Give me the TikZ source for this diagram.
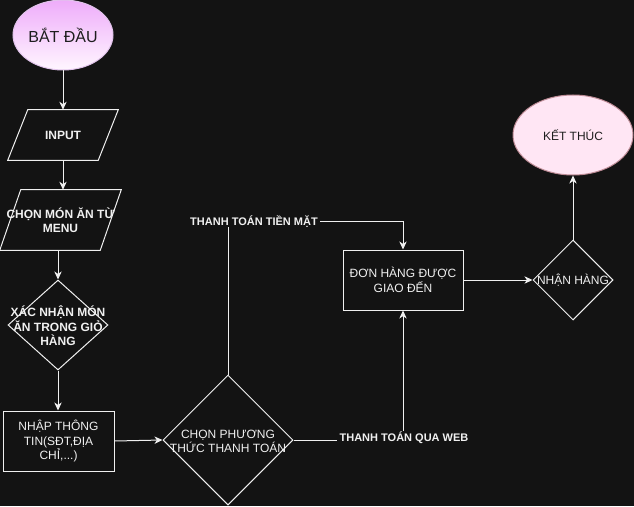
\documentclass[tikz,border=0pt]{standalone}
\usepackage{fontspec}
\setmainfont{Liberation Sans}
\usetikzlibrary{shapes.geometric,arrows.meta}
\definecolor{bg}{HTML}{131313}
\definecolor{fg}{HTML}{F0F0F0}
\definecolor{dark}{HTML}{1E1E1E}
\definecolor{vtop}{RGB}{238,172,250}
\definecolor{vbot}{RGB}{255,246,255}
\definecolor{vline}{RGB}{225,195,235}
\definecolor{pinkfill}{RGB}{255,230,244}
\definecolor{pinkline}{RGB}{190,140,150}
\begin{document}
\begin{tikzpicture}[x=0.75pt,y=-0.75pt,
  txt/.style={text=fg, font=\fontsize{9}{10.8}\selectfont, align=center, inner sep=0pt},
  btxt/.style={text=fg, font=\fontsize{9}{10.8}\selectfont\bfseries, align=center, inner sep=0pt},
  shp/.style={draw=fg, line width=0.75pt},
  conn/.style={draw=fg, line width=0.75pt},
  arr/.style={conn, -{Stealth[length=6pt,width=5.5pt,inset=1.8pt]}},
  edgelbl/.style={text=fg, font=\fontsize{8.25}{10}\selectfont\bfseries, inner sep=1.5pt, text height=6pt, text depth=0pt},
  term/.style={ellipse, inner sep=0pt, text=dark}
]
\fill[bg] (0,0) rectangle (634,506);
\useasboundingbox (0,0) rectangle (634,506);

% start
\node[term, draw=vline, line width=0.75pt, top color=vtop, bottom color=vbot,
      minimum width=75pt, minimum height=52.5pt, font=\fontsize{12}{14}\selectfont] (start) at (63,35) {BẮT ĐẦU};

% input parallelogram
\node[btxt, minimum width=82.5pt, minimum height=37.5pt] (input) at (63,135) {INPUT};
\draw[shp] ([xshift=15pt]input.north west) -- (input.north east) -- ([xshift=-15pt]input.south east) -- (input.south west) -- cycle;

% menu parallelogram
\node[btxt, minimum width=90.75pt, minimum height=45pt] (menu) at (60.5,220) {CHỌN MÓN ĂN TỪ\\MENU};
\draw[shp] ([xshift=15.75pt]menu.north west) -- (menu.north east) -- ([xshift=-15.75pt]menu.south east) -- (menu.south west) -- cycle;

% confirm diamond
\node[shp, diamond, minimum width=75pt, minimum height=67.5pt, inner sep=0pt] (xac) at (58,325) {};
\node[btxt] (xact) at (58,326) {XÁC NHẬN MÓN\\ĂN TRONG GIỎ\\HÀNG};

% info rect
\node[shp, txt, minimum width=83.25pt, minimum height=45pt] (nhap) at (58.5,441) {NHẬP THÔNG\\TIN(SĐT,ĐỊA\\CHỈ,...)};

% payment diamond
\node[shp, diamond, minimum width=97.5pt, minimum height=97.5pt, inner sep=0pt] (cpt) at (228,440) {};
\node[txt] (cptt) at (228,441.5) {CHỌN PHƯƠNG\\THỨC THANH TOÁN};

% delivered rect
\node[shp, txt, minimum width=90pt, minimum height=45pt] (don) at (403,280) {ĐƠN HÀNG ĐƯỢC\\GIAO ĐẾN};

% receive diamond
\node[shp, diamond, minimum width=60pt, minimum height=60pt, inner sep=0pt] (nhan) at (573,280) {};
\node[txt] (nhant) at (573,280) {NHẬN HÀNG};

% end
\node[term, draw=pinkline, line width=0.75pt, fill=pinkfill,
      minimum width=90pt, minimum height=60pt, font=\fontsize{9}{10.8}\selectfont] (end) at (573,135) {KẾT THÚC};

% edge labels
\node[edgelbl] (lbl1) at (254,221) {THANH TOÁN TIỀN MẶT};
\node[edgelbl] (lbl2) at (404,437) {THANH TOÁN QUA WEB};

% connectors
\draw[arr] (start.south) -- (input.north);
\draw[arr] (input.south) -- (input.south |- menu.north);
\draw[arr] (menu.south -| xac.north) -- (xac.north);
\draw[arr] (xac.south) -- (xac.south |- nhap.north);
\draw[arr] (nhap.east) -- (cpt.west);
\draw[conn] (cpt.north) -- (cpt.north |- lbl1.south);
\draw[arr] (lbl1.east) -| (don.north);
\draw[conn] (cpt.east) -- (cpt.east -| lbl2.west);
\draw[arr] (lbl2.north -| don.south) -- (don.south);
\draw[arr] (don.east) -- (nhan.west);
\draw[arr] (nhan.north) -- (end.south);
\end{tikzpicture}
\end{document}
